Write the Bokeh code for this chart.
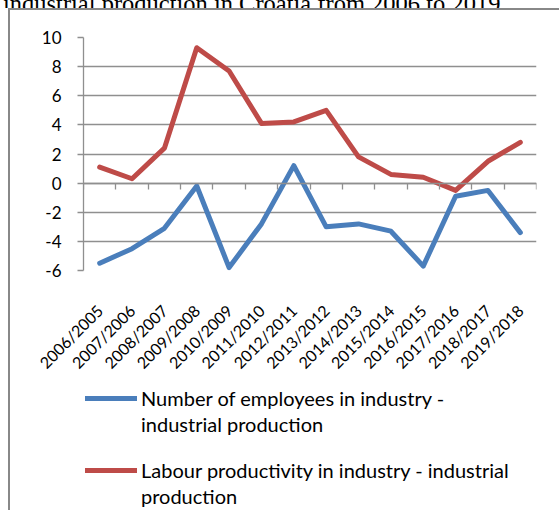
import math
from bokeh.plotting import figure
from bokeh.models import (Range1d, FixedTicker, Legend, LegendItem, LinearAxis, Div, Spacer)
from bokeh.layouts import column, row
from bokeh.embed import file_html
from bokeh.resources import INLINE

# ---- data -------------------------------------------------------------
periods = ["2006/2005", "2007/2006", "2008/2007", "2009/2008", "2010/2009",
           "2011/2010", "2012/2011", "2013/2012", "2014/2013", "2015/2014",
           "2016/2015", "2017/2016", "2018/2017", "2019/2018"]
employees = [-5.5, -4.5, -3.1, -0.2, -5.8, -2.8, 1.2, -3.0, -2.8, -3.3,
             -5.7, -0.9, -0.5, -3.4]
productivity = [1.1, 0.3, 2.4, 9.3, 7.7, 4.1, 4.2, 5.0, 1.8, 0.6,
                0.4, -0.5, 1.5, 2.8]
y_ticks = [-6, -4, -2, 0, 2, 4, 6, 8, 10]
employees_name = ["Number of employees in industry -", "industrial production"]
productivity_name = ["Labour productivity in industry - industrial", "production"]
caption = "industrial production in Croatia from 2006 to 2019."

# ---- layout constants -------------------------------------------------
PAGE_W, PAGE_H = 559, 510
CAP_H, LINE = 8, 2                     # caption strip, frame line width
OX, OY = 8 + LINE, CAP_H + LINE        # where the chart box content starts
W = PAGE_W - OX                        # 549
HA = 371                               # chart figure height
HB = PAGE_H - OY - HA                  # legend figure height
FL, FR, FT, FB = 73, 526, 27, 260      # frame edges inside the chart figure
FONT = "Lato"
GRID = "#8f8f8f"
FRAME = "#888888"
BLUE, RED = "#4A7EBB", "#BE4B48"

n = len(periods)
centers = [i + 0.5 for i in range(n)]

# ---------------- chart figure -----------------------------------------
p = figure(width=W, height=HA, output_backend="svg", toolbar_location=None,
           x_range=Range1d(0, n), y_range=Range1d(y_ticks[0], y_ticks[-1]),
           min_border_left=FL, min_border_right=W - FR,
           min_border_top=FT, min_border_bottom=HA - FB, margin=0)
p.outline_line_color = None
p.background_fill_color = "white"
p.border_fill_color = "white"

p.xgrid.visible = False
p.ygrid.grid_line_color = GRID
p.ygrid.grid_line_width = 1.3

p.yaxis.ticker = FixedTicker(ticks=y_ticks)
p.yaxis.major_label_overrides = {t: str(t) for t in y_ticks}
p.yaxis.axis_line_color = GRID
p.yaxis.axis_line_width = 1.3
p.yaxis.major_tick_line_color = GRID
p.yaxis.major_tick_line_width = 1.3
p.yaxis.major_tick_out = 6
p.yaxis.major_tick_in = 0
p.yaxis.minor_tick_line_color = None
p.yaxis.major_label_standoff = 16
p.yaxis.major_label_text_font = FONT
p.yaxis.major_label_text_font_size = "17px"
p.yaxis.major_label_text_color = "black"

p.xaxis.ticker = FixedTicker(ticks=centers)
p.xaxis.major_label_overrides = {c: lab for c, lab in zip(centers, periods)}
p.xaxis.major_label_orientation = math.pi / 4
p.xaxis.axis_line_color = None
p.xaxis.major_tick_line_color = None
p.xaxis.major_tick_out = 0
p.xaxis.major_tick_in = 0
p.xaxis.minor_tick_line_color = None
p.xaxis.major_label_standoff = 37
p.xaxis.major_label_text_font = FONT
p.xaxis.major_label_text_font_size = "16px"
p.xaxis.major_label_text_color = "black"

# category axis crossing at zero, tick marks between categories
zero_axis = LinearAxis(fixed_location=0, ticker=FixedTicker(ticks=list(range(n + 1))))
zero_axis.axis_line_color = GRID
zero_axis.axis_line_width = 1.3
zero_axis.major_tick_line_color = GRID
zero_axis.major_tick_line_width = 1.3
zero_axis.major_tick_out = 6
zero_axis.major_tick_in = 0
zero_axis.minor_tick_line_color = None
zero_axis.major_label_text_color = None
zero_axis.major_label_text_font_size = "1px"
zero_axis.major_label_standoff = 0
p.add_layout(zero_axis, "below")

line_style = dict(line_width=5, line_join="round", line_cap="round")
p.line(centers, employees, line_color=BLUE, **line_style)
p.line(centers, productivity, line_color=RED, **line_style)

# ---------------- legend figure ----------------------------------------
q = figure(width=W, height=HB, output_backend="svg", toolbar_location=None,
           x_range=Range1d(0, n), y_range=Range1d(y_ticks[0], y_ticks[-1]),
           x_axis_location=None, y_axis_location=None,
           min_border=0, min_border_left=0, min_border_right=0,
           min_border_top=0, min_border_bottom=0, margin=0)
q.outline_line_color = None
q.grid.visible = False
q.background_fill_color = "white"
q.border_fill_color = "white"

k_emp = q.line(centers, employees, line_color=BLUE, visible=False, **line_style)
k_prod = q.line(centers, productivity, line_color=RED, visible=False, **line_style)
k_cont = q.line(centers, employees, line_alpha=0, visible=False, **line_style)


def make_legend(name_lines, renderer, top):
    items = [LegendItem(label=name_lines[0], renderers=[renderer])]
    items += [LegendItem(label=t, renderers=[k_cont]) for t in name_lines[1:]]
    lg = Legend(items=items, location=(2, HB - top - 50))
    lg.padding = 0
    lg.margin = 0
    lg.border_line_color = None
    lg.background_fill_alpha = 0
    lg.glyph_width = 52
    lg.glyph_height = 24
    lg.label_height = 24
    lg.label_standoff = 4
    lg.spacing = 2
    lg.label_text_font = FONT
    lg.label_text_font_size = "20px"
    lg.label_text_color = "black"
    lg.label_text_baseline = "middle"
    return lg


q.add_layout(make_legend(employees_name, k_emp, 5), "center")
q.add_layout(make_legend(productivity_name, k_prod, 77), "center")

# ---------------- document caption and chart frame ---------------------
cap = Div(text=('<div style="white-space:nowrap;margin-top:-17px;padding-left:3px;'
                'font-family:\'Liberation Serif\';font-size:24.5px;line-height:23px;'
                f'color:black">{caption}</div>'),
          width=PAGE_W, height=CAP_H, margin=0, styles={"overflow": "hidden"})
top_line = row(Spacer(width=8, height=LINE, margin=0),
               Div(text="", width=PAGE_W - 8, height=LINE, margin=0,
                   styles={"background-color": FRAME}),
               margin=0, spacing=0)
body = row(Spacer(width=8, height=HA + HB, margin=0),
           Div(text="", width=LINE, height=HA + HB, margin=0,
               styles={"background-color": FRAME}),
           column(p, q, margin=0, spacing=0),
           margin=0, spacing=0)

page = column(cap, top_line, body, margin=0, spacing=0)
open("out.html", "w").write(file_html(page, INLINE))
